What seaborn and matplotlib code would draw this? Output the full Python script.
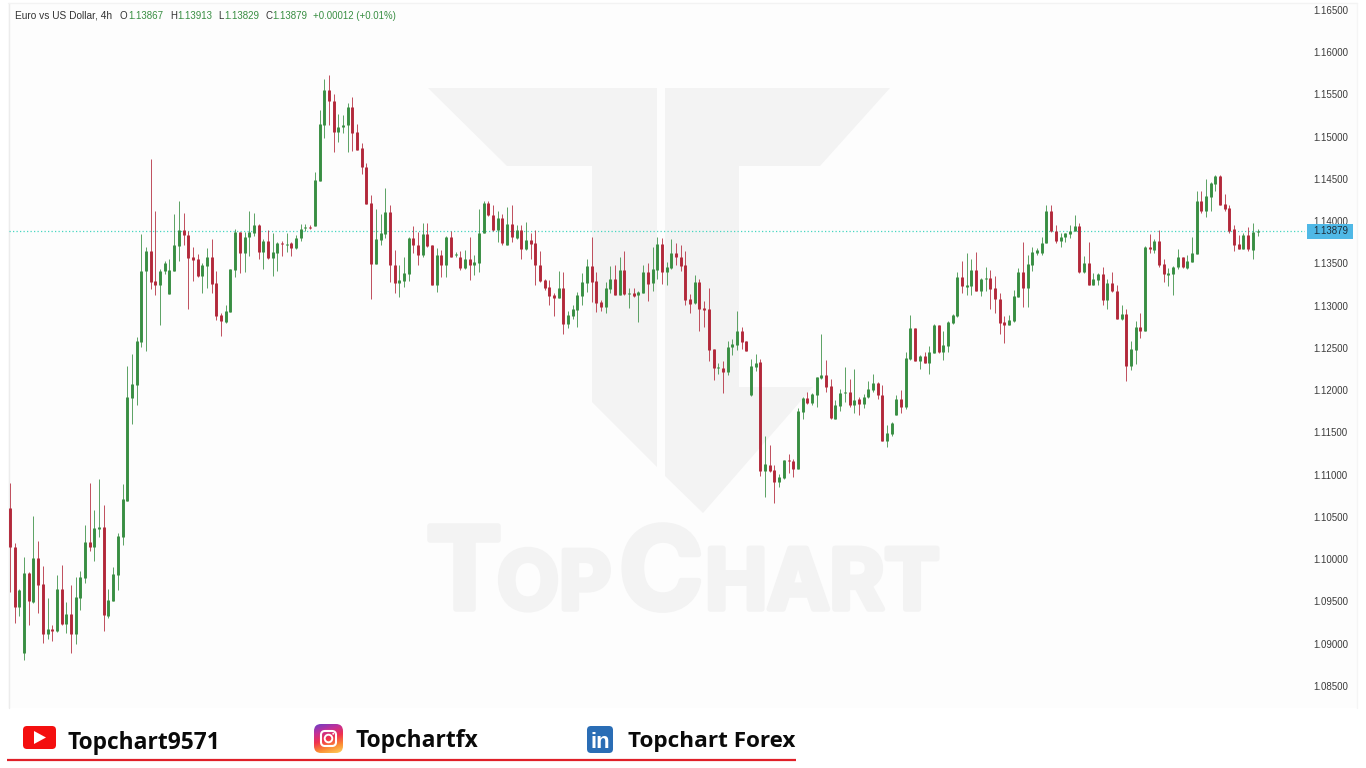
"""EUR/USD 4h candles with the TopChart watermark and social footer."""
import numpy as np
import pandas as pd
import matplotlib.pyplot as plt
import matplotlib.patheffects as pe
from matplotlib.patches import FancyBboxPatch, Polygon, Circle, Rectangle
from matplotlib.transforms import blended_transform_factory
from matplotlib.colors import LinearSegmentedColormap
import seaborn as sns

sns.set_theme(style="white")
plt.rcParams["font.family"] = ["Liberation Sans", "DejaVu Sans"]

UP = "#388e42"
DOWN = "#b2283a"

opens = [
    1.10603, 1.10150, 1.09439, 1.08894, 1.09840, 1.09494, 1.10015, 1.09707, 1.09116, 1.09171,
    1.09151, 1.09644, 1.09234, 1.09352, 1.09116, 1.09542, 1.09778, 1.10204, 1.10149, 1.10362,
    1.10386, 1.09329, 1.09510, 1.09818, 1.10267, 1.10693, 1.11908, 1.12059, 1.12571, 1.13411,
    1.13648, 1.13293, 1.13242, 1.13408, 1.13139, 1.13415, 1.13707, 1.13896, 1.13837, 1.13573,
    1.13550, 1.13352, 1.13470, 1.13573, 1.13266, 1.12894, 1.12808, 1.12926, 1.13423, 1.13873,
    1.13621, 1.13810, 1.13865, 1.13959, 1.13636, 1.13770, 1.13565, 1.13628, 1.13739, 1.13722,
    1.13739, 1.13683, 1.13802, 1.13924, 1.13936, 1.13944, 1.14480, 1.15143, 1.15553, 1.15427,
    1.15056, 1.15112, 1.15135, 1.15348, 1.15056, 1.14867, 1.14646, 1.14212, 1.13494, 1.13778,
    1.13849, 1.14109, 1.13486, 1.13266, 1.13289, 1.13376, 1.13802, 1.13722, 1.13597, 1.13849,
    1.13722, 1.13249, 1.13597, 1.13486, 1.13810, 1.13597, 1.13580, 1.13447, 1.13557, 1.13479,
    1.13509, 1.13857, 1.14220, 1.14078, 1.13896, 1.14038, 1.13722, 1.13967, 1.13802, 1.13896,
    1.13668, 1.13778, 1.13739, 1.13486, 1.13305, 1.13218, 1.13131, 1.13092, 1.13210, 1.12784,
    1.12879, 1.12950, 1.13115, 1.13273, 1.13470, 1.13289, 1.13044, 1.12982, 1.13202, 1.13320,
    1.13124, 1.13423, 1.13139, 1.13147, 1.13124, 1.13147, 1.13399, 1.13266, 1.13423, 1.13731,
    1.13399, 1.13447, 1.13628, 1.13580, 1.13479, 1.13076, 1.13029, 1.13281, 1.12973, 1.12958,
    1.12492, 1.12260, 1.12263, 1.12216, 1.12508, 1.12539, 1.12698, 1.12579, 1.11940, 1.12279,
    1.12334, 1.11048, 1.11119, 1.11056, 1.10915, 1.10962, 1.11175, 1.11166, 1.11072, 1.11743,
    1.11908, 1.11846, 1.11947, 1.12145, 1.12177, 1.12050, 1.11664, 1.11814, 1.11971, 1.11979,
    1.11822, 1.11893, 1.11837, 1.11917, 1.12003, 1.12089, 1.11947, 1.11403, 1.11482, 1.11704,
    1.11900, 1.11798, 1.12366, 1.12737, 1.12350, 1.12405, 1.12319, 1.12445, 1.12769, 1.12453,
    1.12524, 1.12792, 1.12879, 1.13344, 1.13226, 1.13234, 1.13423, 1.13178, 1.13313, 1.13328,
    1.13210, 1.13083, 1.12808, 1.12776, 1.12816, 1.13107, 1.13399, 1.13210, 1.13486, 1.13628,
    1.13621, 1.13739, 1.14118, 1.13888, 1.13763, 1.13810, 1.13849, 1.13881, 1.13944, 1.13399,
    1.13502, 1.13249, 1.13305, 1.13376, 1.13068, 1.13273, 1.13178, 1.12840, 1.12902, 1.12287,
    1.12476, 1.12752, 1.12705, 1.13699, 1.13660, 1.13770, 1.13494, 1.13367, 1.13376, 1.13455,
    1.13573, 1.13447, 1.13518, 1.13612, 1.14236, 1.14125, 1.14291, 1.14441, 1.14536, 1.14204,
    1.14157, 1.13905, 1.13731, 1.13675, 1.13841, 1.13660, 1.13867,
]
highs = [
    1.10899, 1.10197, 1.09644, 1.10023, 1.09849, 1.10512, 1.10220, 1.09920, 1.09542, 1.09218,
    1.09810, 1.09928, 1.09494, 1.09692, 1.09786, 1.09857, 1.10402, 1.10899, 1.10583, 1.10953,
    1.10642, 1.09644, 1.09905, 1.10307, 1.10890, 1.12287, 1.12429, 1.12627, 1.13849, 1.13695,
    1.14737, 1.14125, 1.13438, 1.13533, 1.13553, 1.14086, 1.14243, 1.14098, 1.13888, 1.13699,
    1.13612, 1.13502, 1.13683, 1.13786, 1.13415, 1.12911, 1.13005, 1.13438, 1.13912, 1.13873,
    1.13873, 1.14125, 1.14094, 1.13967, 1.13786, 1.13896, 1.13857, 1.13754, 1.13763, 1.13857,
    1.13754, 1.13834, 1.13967, 1.13967, 1.13959, 1.14579, 1.15317, 1.15680, 1.15734, 1.15506,
    1.15269, 1.15261, 1.15403, 1.15467, 1.15151, 1.14922, 1.14686, 1.14307, 1.14149, 1.14086,
    1.14393, 1.14196, 1.13660, 1.13479, 1.13580, 1.13810, 1.13944, 1.13873, 1.13976, 1.13976,
    1.13722, 1.13683, 1.13660, 1.13825, 1.13888, 1.13636, 1.13644, 1.13660, 1.13810, 1.13597,
    1.14141, 1.14243, 1.14243, 1.14196, 1.14125, 1.14086, 1.14165, 1.14189, 1.13952, 1.13952,
    1.13991, 1.13857, 1.13896, 1.13651, 1.13313, 1.13305, 1.13147, 1.13415, 1.13399, 1.12941,
    1.13005, 1.13163, 1.13384, 1.13550, 1.13810, 1.13399, 1.13068, 1.13281, 1.13470, 1.13479,
    1.13580, 1.13651, 1.13210, 1.13210, 1.13178, 1.13479, 1.13502, 1.13699, 1.13810, 1.13802,
    1.13518, 1.13786, 1.13739, 1.13715, 1.13651, 1.13139, 1.13360, 1.13313, 1.13053, 1.13210,
    1.12492, 1.12326, 1.12343, 1.12586, 1.12603, 1.12934, 1.12752, 1.12579, 1.12366, 1.12429,
    1.12366, 1.11459, 1.11349, 1.11112, 1.11009, 1.11175, 1.11246, 1.11190, 1.11790, 1.11917,
    1.11979, 1.11971, 1.12160, 1.12666, 1.12358, 1.12130, 1.11885, 1.12018, 1.12272, 1.12130,
    1.12248, 1.11917, 1.11956, 1.12106, 1.12192, 1.12097, 1.12059, 1.11585, 1.11624, 1.11947,
    1.12003, 1.12453, 1.12887, 1.12737, 1.12421, 1.12453, 1.12524, 1.12784, 1.12776, 1.12705,
    1.12823, 1.12902, 1.13399, 1.13533, 1.13621, 1.13550, 1.13636, 1.13328, 1.13455, 1.13423,
    1.13352, 1.13154, 1.12879, 1.12887, 1.13186, 1.13447, 1.13754, 1.13597, 1.13692, 1.13683,
    1.13817, 1.14196, 1.14196, 1.13952, 1.13865, 1.13865, 1.13952, 1.14078, 1.13983, 1.13589,
    1.13754, 1.13391, 1.13384, 1.13455, 1.13313, 1.13399, 1.13249, 1.13005, 1.12965, 1.12579,
    1.12823, 1.12918, 1.13707, 1.13849, 1.13793, 1.13896, 1.13550, 1.13447, 1.13470, 1.13668,
    1.13580, 1.13604, 1.13817, 1.14362, 1.14362, 1.14496, 1.14465, 1.14544, 1.14544, 1.14322,
    1.14189, 1.13952, 1.13834, 1.13857, 1.13928, 1.13976, 1.13913,
]
lows = [
    1.09616, 1.09250, 1.09332, 1.08808, 1.09218, 1.09486, 1.09360, 1.09013, 1.09056, 1.09029,
    1.09143, 1.09218, 1.09131, 1.08894, 1.08997, 1.09400, 1.09722, 1.10101, 1.09983, 1.10267,
    1.09147, 1.09305, 1.09510, 1.09636, 1.10172, 1.10693, 1.11600, 1.11822, 1.12515, 1.12468,
    1.13202, 1.13131, 1.12772, 1.13376, 1.13139, 1.13415, 1.13533, 1.13719, 1.12965, 1.13296,
    1.13340, 1.13154, 1.13210, 1.13147, 1.12831, 1.12642, 1.12799, 1.12926, 1.13337, 1.13391,
    1.13399, 1.13589, 1.13825, 1.13557, 1.13438, 1.13557, 1.13352, 1.13408, 1.13589, 1.13636,
    1.13589, 1.13675, 1.13770, 1.13881, 1.13905, 1.13944, 1.14480, 1.14985, 1.15135, 1.14820,
    1.14938, 1.15048, 1.14820, 1.14835, 1.14843, 1.14559, 1.14204, 1.13083, 1.13494, 1.13715,
    1.13802, 1.13281, 1.13147, 1.13107, 1.13225, 1.13296, 1.13628, 1.13479, 1.13580, 1.13699,
    1.13249, 1.13163, 1.13344, 1.13337, 1.13573, 1.13573, 1.13423, 1.13438, 1.13305, 1.13360,
    1.13399, 1.13857, 1.14062, 1.13881, 1.13754, 1.13722, 1.13715, 1.13754, 1.13793, 1.13557,
    1.13660, 1.13557, 1.13242, 1.13281, 1.13186, 1.13005, 1.12879, 1.13092, 1.12666, 1.12737,
    1.12847, 1.12745, 1.13012, 1.13163, 1.13044, 1.12926, 1.12934, 1.12918, 1.13147, 1.13124,
    1.13124, 1.13131, 1.12973, 1.13100, 1.12808, 1.13147, 1.13053, 1.13171, 1.13313, 1.13257,
    1.13249, 1.13431, 1.13479, 1.13415, 1.13012, 1.12918, 1.13021, 1.12705, 1.12752, 1.12350,
    1.12121, 1.12192, 1.11971, 1.12184, 1.12421, 1.12476, 1.12485, 1.12468, 1.11932, 1.12231,
    1.10985, 1.10733, 1.11032, 1.10662, 1.10852, 1.10953, 1.11024, 1.10977, 1.11072, 1.11656,
    1.11837, 1.11822, 1.11805, 1.12137, 1.11979, 1.11664, 1.11656, 1.11758, 1.11861, 1.11805,
    1.11727, 1.11711, 1.11790, 1.11908, 1.11979, 1.11893, 1.11403, 1.11325, 1.11459, 1.11704,
    1.11734, 1.11775, 1.12358, 1.12343, 1.12255, 1.12319, 1.12192, 1.12437, 1.12437, 1.12358,
    1.12453, 1.12784, 1.12871, 1.13147, 1.13131, 1.13124, 1.13178, 1.13115, 1.13178, 1.12965,
    1.12911, 1.12666, 1.12563, 1.12769, 1.12808, 1.13100, 1.12989, 1.12982, 1.13415, 1.13597,
    1.13604, 1.13739, 1.13873, 1.13746, 1.13699, 1.13754, 1.13802, 1.13881, 1.13384, 1.13384,
    1.13242, 1.13242, 1.13249, 1.13005, 1.12965, 1.13163, 1.12840, 1.12831, 1.12106, 1.12240,
    1.12311, 1.12618, 1.12705, 1.13628, 1.13621, 1.13462, 1.13281, 1.13234, 1.13131, 1.13438,
    1.13447, 1.13438, 1.13518, 1.13612, 1.14094, 1.14047, 1.14125, 1.14354, 1.14192, 1.14125,
    1.13865, 1.13644, 1.13675, 1.13668, 1.13651, 1.13557, 1.13829,
]
closes = [
    1.10150, 1.09439, 1.09636, 1.09832, 1.09503, 1.10015, 1.09699, 1.09116, 1.09171, 1.09155,
    1.09644, 1.09230, 1.09352, 1.09116, 1.09550, 1.09786, 1.10204, 1.10149, 1.10370, 1.10386,
    1.09344, 1.09518, 1.09826, 1.10275, 1.10709, 1.11917, 1.12074, 1.12579, 1.13415, 1.13648,
    1.13281, 1.13246, 1.13415, 1.13509, 1.13423, 1.13719, 1.13896, 1.13834, 1.13565, 1.13541,
    1.13352, 1.13479, 1.13573, 1.13257, 1.12879, 1.12816, 1.12934, 1.13431, 1.13873, 1.13628,
    1.13817, 1.13873, 1.13952, 1.13636, 1.13770, 1.13565, 1.13636, 1.13739, 1.13727, 1.13731,
    1.13683, 1.13802, 1.13912, 1.13936, 1.13924, 1.14488, 1.15151, 1.15553, 1.15427, 1.15056,
    1.15119, 1.15143, 1.15356, 1.15048, 1.14843, 1.14638, 1.14204, 1.13494, 1.13786, 1.13857,
    1.14109, 1.13479, 1.13266, 1.13305, 1.13384, 1.13802, 1.13715, 1.13597, 1.13849, 1.13707,
    1.13249, 1.13597, 1.13486, 1.13817, 1.13580, 1.13612, 1.13447, 1.13557, 1.13479, 1.13518,
    1.13865, 1.14220, 1.14070, 1.13896, 1.14038, 1.13739, 1.13967, 1.13810, 1.13896, 1.13675,
    1.13778, 1.13731, 1.13482, 1.13289, 1.13210, 1.13115, 1.13092, 1.13210, 1.12784, 1.12887,
    1.12965, 1.13131, 1.13281, 1.13470, 1.13281, 1.13036, 1.12982, 1.13210, 1.13320, 1.13131,
    1.13423, 1.13139, 1.13147, 1.13115, 1.13163, 1.13399, 1.13257, 1.13431, 1.13731, 1.13399,
    1.13455, 1.13628, 1.13573, 1.13470, 1.13068, 1.13021, 1.13281, 1.12965, 1.12950, 1.12476,
    1.12263, 1.12272, 1.12216, 1.12515, 1.12547, 1.12698, 1.12571, 1.12468, 1.12287, 1.12326,
    1.11041, 1.11127, 1.11048, 1.10915, 1.10970, 1.11175, 1.11166, 1.11072, 1.11758, 1.11908,
    1.11846, 1.11956, 1.12160, 1.12177, 1.12042, 1.11672, 1.11822, 1.11971, 1.11979, 1.11822,
    1.11885, 1.11837, 1.11924, 1.12011, 1.12089, 1.11940, 1.11403, 1.11490, 1.11616, 1.11900,
    1.11805, 1.12382, 1.12737, 1.12350, 1.12405, 1.12326, 1.12453, 1.12776, 1.12453, 1.12532,
    1.12808, 1.12887, 1.13344, 1.13234, 1.13242, 1.13423, 1.13178, 1.13320, 1.13328, 1.13202,
    1.13076, 1.12799, 1.12776, 1.12831, 1.13115, 1.13399, 1.13210, 1.13494, 1.13636, 1.13660,
    1.13746, 1.14125, 1.13881, 1.13770, 1.13817, 1.13857, 1.13888, 1.13944, 1.13399, 1.13502,
    1.13249, 1.13313, 1.13376, 1.13068, 1.13273, 1.13171, 1.12840, 1.12902, 1.12287, 1.12485,
    1.12752, 1.12705, 1.13699, 1.13668, 1.13770, 1.13479, 1.13376, 1.13384, 1.13462, 1.13573,
    1.13455, 1.13526, 1.13621, 1.14236, 1.14125, 1.14299, 1.14449, 1.14536, 1.14196, 1.14141,
    1.13881, 1.13722, 1.13675, 1.13841, 1.13668, 1.13873, 1.13879,
]

y_ticks = [1.085, 1.09, 1.095, 1.10, 1.105, 1.11, 1.115, 1.12, 1.125, 1.13,
           1.135, 1.14, 1.145, 1.15, 1.155, 1.16, 1.165]
last_price = 1.13879

header_parts = [
    ("Euro vs US Dollar, 4h", "#333333", 15, 7.3), ("O", "#333333", 120, 7), ("1.13867", UP, 128, 7),
    ("H", "#333333", 170, 7), ("1.13913", UP, 177, 7), ("L", "#333333", 218, 7), ("1.13829", UP, 224, 7),
    ("C", "#333333", 265, 7), ("1.13879", UP, 272, 7), ("+0.00012 (+0.01%)", UP, 313, 6.9),
]

df = pd.DataFrame({"open": opens, "high": highs, "low": lows, "close": closes})
df["i"] = np.arange(len(df))
df["dir"] = np.where(df["close"] >= df["open"], "up", "down")
wicks = df.melt(id_vars=["i", "dir"], value_vars=["high", "low"], value_name="price")
bodies = df.melt(id_vars=["i", "dir"], value_vars=["open", "close"], value_name="price")

fig = plt.figure(figsize=(13.66, 7.68), dpi=100, facecolor="white")

# full-figure pixel axes for watermark and footer
bg = fig.add_axes([0, 0, 1, 1], zorder=0)
bg.set_xlim(0, 1366)
bg.set_ylim(768, 0)
bg.axis("off")
bg.add_patch(Rectangle((8, 3), 1349, 705, fc="#fdfdfd", ec="none"))
bg.plot([8.5, 8.5], [3, 708], color="#ececec", lw=1)
bg.plot([8, 1357], [3, 3], color="#f3f3f3", lw=1)
bg.plot([1357, 1357], [3, 708], color="#f5f5f5", lw=1)

WM = "#f3f3f3"
bg.add_patch(Polygon([(428, 88), (657, 88), (657, 467), (592, 402), (592, 166), (507, 166)], fc=WM, ec="none"))
bg.add_patch(Polygon([(665, 88), (890, 88), (820, 166), (739, 166), (739, 387), (813, 387), (703, 513), (665, 476)],
                     fc=WM, ec="none"))
for txt, x, size in [("T", 426, 82), ("OP", 497, 58), ("C", 619, 82), ("HART", 705, 60)]:
    bg.text(x, 609, txt, fontsize=size, family="Inter", fontweight="bold", color=WM, ha="left", va="baseline",
            path_effects=[pe.withStroke(linewidth=4, foreground=WM)])

for txt, color, x, size in header_parts:
    bg.text(x, 16, txt, fontsize=size, color=color, ha="left", va="center")

# footer
bg.plot([7, 796], [760, 760], color="#e02028", lw=1.6, solid_capstyle="butt")
bg.add_patch(FancyBboxPatch((25, 728), 29, 19, boxstyle="round,pad=2,rounding_size=4", fc="#f40f0f", ec="none"))
bg.add_patch(Polygon([(34, 731), (34, 744), (46, 737.5)], fc="white", ec="none"))

insta = FancyBboxPatch((316, 726), 25, 25, boxstyle="round,pad=2,rounding_size=7", fc="none", ec="none")
bg.add_patch(insta)
ramp = LinearSegmentedColormap.from_list("insta", ["#6a3fc8", "#c1309a", "#f0304f", "#fb8a32", "#fdd45c"])
grad = np.linspace(0, 1, 64)[:, None] * 0.75 + np.linspace(0, 1, 64)[None, :] * 0.25
im = bg.imshow(grad, cmap=ramp, extent=(314, 343, 753, 724), aspect="auto", zorder=2)
im.set_clip_path(insta)
bg.set_xlim(0, 1366)
bg.set_ylim(768, 0)
bg.add_patch(FancyBboxPatch((321, 731), 15, 15, boxstyle="round,pad=0,rounding_size=4", fc="none", ec="white", lw=1.5, zorder=3))
bg.add_patch(Circle((328.5, 738.5), 3.8, fc="none", ec="white", lw=1.4, zorder=3))
bg.add_patch(Circle((333.2, 733.8), 0.9, fc="white", ec="none", zorder=3))

bg.add_patch(FancyBboxPatch((589, 728), 22, 23, boxstyle="round,pad=2,rounding_size=4", fc="#2a6db5", ec="none"))
bg.text(600, 742, "in", fontsize=16, fontweight="bold", color="white", ha="center", va="center", family="Liberation Sans")

for txt, x, y, size in [("Topchart9571", 67, 743, 16.4), ("Topchartfx", 356, 741, 16.4), ("Topchart Forex", 628, 741, 16.2)]:
    bg.text(x, y, txt, fontsize=size, fontweight="bold", color="#0a0a0a", ha="left", va="center", family="Open Sans")

# candles
ax = fig.add_axes([9 / 1366, 60 / 768, 1296 / 1366, 705 / 768], zorder=1)
ax.patch.set_alpha(0)
palette = {"up": UP, "down": DOWN}
sns.lineplot(data=wicks, x="i", y="price", hue="dir", units="i", estimator=None, palette=palette,
             lw=0.72, alpha=0.8, legend=False, solid_capstyle="butt", ax=ax)
sns.lineplot(data=bodies, x="i", y="price", hue="dir", units="i", estimator=None, palette=palette,
             lw=2.1, legend=False, solid_capstyle="butt", ax=ax)

ax.set_xlim(-1 / 4.69, 1295 / 4.69)
ax.set_ylim(1.14 - 486.75 / 8450, 1.14 + 218.25 / 8450)
ax.axhline(last_price, color="#45d6c0", lw=0.9, ls=(0, (1, 1.8)), zorder=1)
for s in ax.spines.values():
    s.set_visible(False)
ax.set_xlabel("")
ax.set_ylabel("")
ax.set_xticks([])
ax.set_yticks(y_ticks)
ax.set_yticklabels([f"{v:.5f}" for v in y_ticks])
ax.yaxis.tick_right()
ax.tick_params(axis="y", length=0, pad=6, labelsize=7, labelcolor="#3c3c3c")

tr = blended_transform_factory(ax.transAxes, ax.transData)
ax.add_patch(Rectangle((1297.5 / 1296, last_price - 7.5 / 8450), 46 / 1296, 15 / 8450, transform=tr,
                       fc="#4fb8e6", ec="none", clip_on=False, zorder=5))
ax.text(1304.5 / 1296, last_price, f"{last_price:.5f}", transform=tr, fontsize=7, color="#1f2d3a",
        ha="left", va="center", zorder=6, clip_on=False)

fig.savefig("out.png", dpi=100)
